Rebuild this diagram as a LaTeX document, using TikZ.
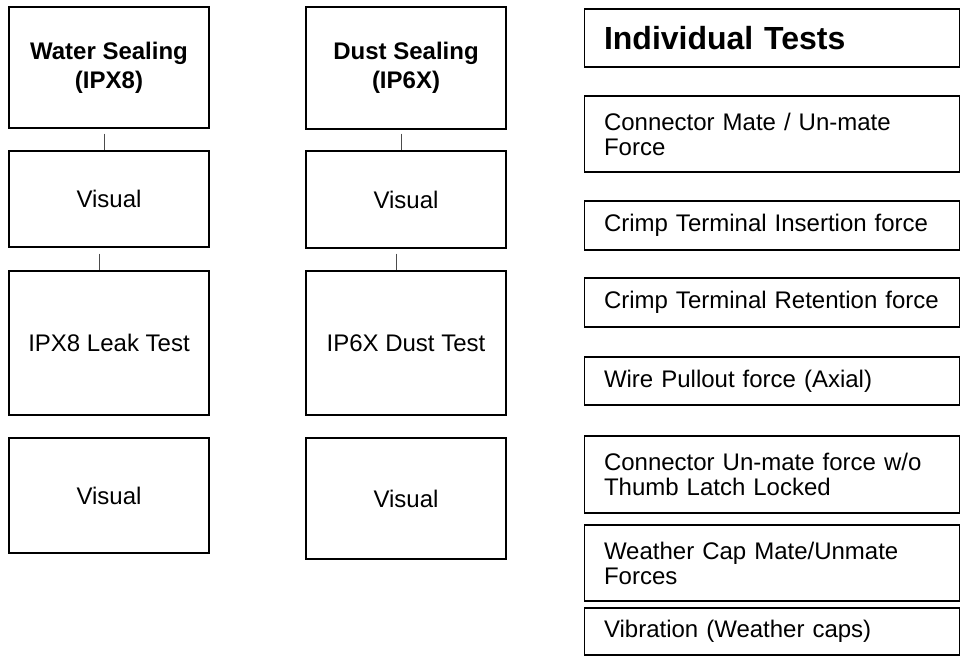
\documentclass[tikz,border=0pt]{standalone}
\usepackage{fontspec}
\setmainfont{Liberation Sans}
\usepackage{tikz}

\begin{document}
\begin{tikzpicture}[x=0.5pt, y=-0.5pt,
    stage/.style={draw, line width=0.7pt, rectangle, minimum width=100pt, minimum height=#1,
      inner sep=0pt, align=center, font=\fontsize{12}{12.5}\selectfont},
    head/.style={stage=#1, font=\bfseries\fontsize{12}{14.5}\selectfont},
    testbox/.style={draw, line width=0.6pt, rectangle, minimum height=#1, text width=168pt,
      inner xsep=9.75pt, inner ysep=0pt, align=left, font=\fontsize{12}{12.5}\selectfont},
    link/.style={draw=black!70, line width=0.5pt}]
  \useasboundingbox (0,0) rectangle (962,658);
  \node[head=60.5pt]  (water)    at (109,67.5)  {Water Sealing\\(IPX8)};
  \node[stage=48pt]   (visA)     at (109,199)   {Visual};
  \node[stage=72pt]   (leak)     at (109,343)   {IPX8 Leak Test};
  \node[stage=57.5pt] (visB)     at (109,495.5) {Visual};
  \node[head=61pt]    (dust)     at (406,68)    {Dust Sealing\\(IP6X)};
  \node[stage=48.5pt] (visC)     at (406,199.5) {Visual};
  \node[stage=72pt]   (dusttest) at (406,343)   {IP6X Dust Test};
  \node[stage=60.5pt] (visD)     at (406,498.5) {Visual};
  \draw[link] ([xshift=-2.5pt,yshift=-2.5pt]water.south) -- ([xshift=-2.5pt]visA.north);
  \draw[link] ([xshift=-5pt,yshift=-3pt]visA.south) -- ([xshift=-5pt]leak.north);
  \draw[link] ([xshift=-2.5pt,yshift=-2pt]dust.south) -- ([xshift=-2.5pt]visC.north);
  \draw[link] ([xshift=-5pt,yshift=-2.5pt]visC.south) -- ([xshift=-5pt]dusttest.north);
  \node[testbox=29pt, font=\bfseries\fontsize{16}{18}\selectfont] (indiv) at (772,38) {Individual Tests};
  \node[testbox=38pt]   (mate)      at (772,134)   {Connector Mate / Un-mate\\Force};
  \node[testbox=24.5pt] (insertion) at (772,225.5) {Crimp Terminal Insertion force};
  \node[testbox=24.5pt] (retention) at (772,302.5) {Crimp Terminal Retention force};
  \node[testbox=24pt]   (pullout)   at (772,381)   {Wire Pullout force (Axial)};
  \node[testbox=38.5pt] (unmate)    at (772,474.5) {Connector Un-mate force w/o\\Thumb Latch Locked};
  \node[testbox=38pt]   (cap)       at (772,563)   {Weather Cap Mate/Unmate\\Forces};
  \node[testbox=23.5pt] (vibration) at (772,631.5) {Vibration (Weather caps)};
\end{tikzpicture}
\end{document}
